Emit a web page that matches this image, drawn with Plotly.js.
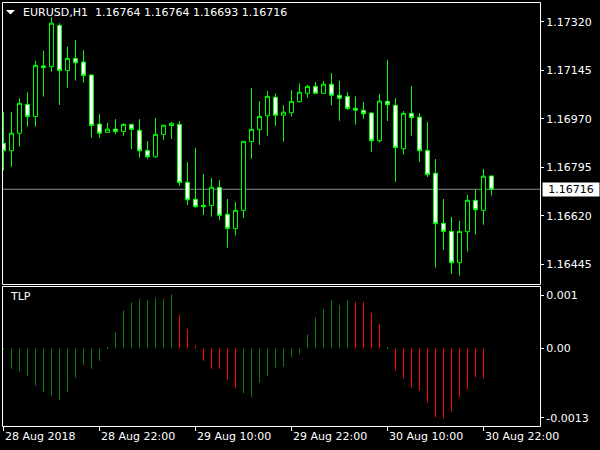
<!DOCTYPE html>
<html>
<head>
<meta charset="utf-8">
<script src="https://cdn.plot.ly/plotly-3.0.1.min.js"></script>
<style>html,body{margin:0;padding:0;background:#000;}#chart{width:600px;height:450px;}</style>
</head>
<body>
<div id="chart"></div>
<script>
var symbol = 'EURUSD,H1';
var indicatorName = 'TLP';

var times = [
 '2018-08-28 10:00','2018-08-28 11:00','2018-08-28 12:00','2018-08-28 13:00','2018-08-28 14:00','2018-08-28 15:00','2018-08-28 16:00',
 '2018-08-28 17:00','2018-08-28 18:00','2018-08-28 19:00','2018-08-28 20:00','2018-08-28 21:00','2018-08-28 22:00','2018-08-28 23:00',
 '2018-08-29 00:00','2018-08-29 01:00','2018-08-29 02:00','2018-08-29 03:00','2018-08-29 04:00','2018-08-29 05:00','2018-08-29 06:00',
 '2018-08-29 07:00','2018-08-29 08:00','2018-08-29 09:00','2018-08-29 10:00','2018-08-29 11:00','2018-08-29 12:00','2018-08-29 13:00',
 '2018-08-29 14:00','2018-08-29 15:00','2018-08-29 16:00','2018-08-29 17:00','2018-08-29 18:00','2018-08-29 19:00','2018-08-29 20:00',
 '2018-08-29 21:00','2018-08-29 22:00','2018-08-29 23:00',
 '2018-08-30 00:00','2018-08-30 01:00','2018-08-30 02:00','2018-08-30 03:00','2018-08-30 04:00','2018-08-30 05:00','2018-08-30 06:00',
 '2018-08-30 07:00','2018-08-30 08:00','2018-08-30 09:00','2018-08-30 10:00','2018-08-30 11:00','2018-08-30 12:00','2018-08-30 13:00',
 '2018-08-30 14:00','2018-08-30 15:00','2018-08-30 16:00','2018-08-30 17:00','2018-08-30 18:00','2018-08-30 19:00','2018-08-30 20:00',
 '2018-08-30 21:00','2018-08-30 22:00','2018-08-30 23:00'
];

var open = [1.16882,1.16855,1.16918,1.17022,1.16978,1.17161,1.17158,1.17307,1.17144,1.17188,1.17175,1.17128,1.16951,1.16921,
 1.16933,1.16924,1.16950,1.16929,1.16856,1.16833,1.16914,1.16946,1.16950,1.16741,1.16680,1.16658,1.16657,1.16723,
 1.16626,1.16574,1.16640,1.16888,1.16931,1.16981,1.17048,1.16983,1.16992,1.17032,
 1.17062,1.17087,1.17062,1.17095,1.17055,1.17051,1.17008,1.17001,1.16991,1.16891,1.17033,1.17019,1.16862,1.16990,
 1.16976,1.16856,1.16774,1.16593,1.16564,1.16451,1.16563,1.16676,1.16640,1.16764];
var high = [1.16995,1.16995,1.17044,1.17066,1.17179,1.17215,1.17336,1.17315,1.17230,1.17254,1.17218,1.17130,1.16988,1.16955,
 1.16969,1.16954,1.16952,1.16969,1.16890,1.16973,1.16948,1.16958,1.16962,1.16814,1.16865,1.16771,1.16757,1.16749,
 1.16681,1.16670,1.16890,1.17081,1.17034,1.17070,1.17062,1.17019,1.17074,1.17098,
 1.17092,1.17102,1.17107,1.17135,1.17107,1.17066,1.17051,1.17031,1.16994,1.17060,1.17182,1.17045,1.16998,1.17088,
 1.16991,1.16959,1.16825,1.16681,1.16616,1.16602,1.16695,1.16716,1.16789,1.16764];
var low = [1.16783,1.16797,1.16870,1.16942,1.16942,1.17050,1.17140,1.17020,1.17082,1.17108,1.17100,1.16902,1.16902,1.16920,
 1.16915,1.16909,1.16861,1.16830,1.16826,1.16830,1.16894,1.16897,1.16729,1.16660,1.16650,1.16623,1.16617,1.16605,
 1.16505,1.16549,1.16613,1.16826,1.16876,1.16909,1.16945,1.16888,1.16978,1.17028,
 1.17046,1.17061,1.17061,1.17019,1.16963,1.17002,1.16949,1.16970,1.16851,1.16884,1.16962,1.16743,1.16841,1.16909,
 1.16815,1.16760,1.16433,1.16497,1.16411,1.16404,1.16491,1.16552,1.16588,1.16693];
var close = [1.16855,1.16918,1.17026,1.16978,1.17163,1.17155,1.17315,1.17144,1.17188,1.17172,1.17126,1.16946,1.16918,1.16933,
 1.16924,1.16950,1.16932,1.16855,1.16833,1.16914,1.16947,1.16954,1.16740,1.16678,1.16653,1.16653,1.16723,1.16622,
 1.16575,1.16640,1.16889,1.16932,1.16979,1.17051,1.16983,1.16994,1.17033,1.17066,
 1.17087,1.17062,1.17095,1.17055,1.17044,1.17007,1.17001,1.16988,1.16891,1.17034,1.17021,1.16866,1.16990,1.16974,
 1.16855,1.16769,1.16592,1.16564,1.16451,1.16564,1.16676,1.16642,1.16763,1.16716];

// TLP histogram: rising buffer (green) and falling buffer (red)
var tlpUp = [-0.00002,-0.00038,-0.00043,-0.00052,-0.00070,-0.00082,-0.00090,-0.00097,-0.00082,-0.00055,-0.00031,-0.00038,-0.00023,0.00002,
 0.00031,0.00071,0.00086,0.00093,0.00091,0.00095,0.00093,0.00101,null,null,null,null,null,null,
 null,null,-0.00084,-0.00092,-0.00064,-0.00052,-0.00036,-0.00034,-0.00017,-0.00011,
 0.00026,0.00058,0.00074,0.00091,0.00082,0.00091,null,null,null,null,0.00001,null,null,null,
 null,null,null,null,null,null,null,null,null,null];
var tlpDown = [null,null,null,null,null,null,null,null,null,null,null,null,null,null,
 null,null,null,null,null,null,null,null,0.00063,0.00037,0.00006,-0.00023,-0.00038,-0.00038,
 -0.00059,-0.00075,null,null,null,null,null,null,null,null,
 null,null,null,null,null,null,0.00087,0.00087,0.00067,0.00046,null,-0.00041,-0.00056,-0.00073,
 -0.00079,-0.00101,-0.00129,-0.00131,-0.00118,-0.00092,-0.00077,-0.00054,-0.00056,null];

var priceTicks = [1.16445,1.16620,1.16795,1.16970,1.17145,1.17320];
var tlpTicks = [0.001,0,-0.0013];
var tlpTickText = ['0.001','0.00','-0.0013'];
var timeTicks = ['2018-08-28 10:00','2018-08-28 22:00','2018-08-29 10:00','2018-08-29 22:00','2018-08-30 10:00','2018-08-30 22:00'];
var timeTickText = ['28 Aug 2018','28 Aug 22:00','29 Aug 10:00','29 Aug 22:00','30 Aug 10:00','30 Aug 22:00'];

var last = times.length - 1;
var lastClose = close[last];
var FONT = 'DejaVu Sans, Verdana, sans-serif';
var NB = '\u00a0';

var traces = [
  {
    type: 'candlestick', x: times, open: open, high: high, low: low, close: close,
    xaxis: 'x', yaxis: 'y', whiskerwidth: 0,
    increasing: {line: {color: '#00ff00', width: 1}, fillcolor: '#000000'},
    decreasing: {line: {color: '#00ff00', width: 1}, fillcolor: '#ffffff'},
    hoverinfo: 'skip'
  },
  {type: 'bar', x: times, y: tlpUp, xaxis: 'x', yaxis: 'y2', width: 225000,
   marker: {color: '#008000', line: {width: 0}}, hoverinfo: 'skip'},
  {type: 'bar', x: times, y: tlpDown, xaxis: 'x', yaxis: 'y2', width: 225000,
   marker: {color: '#ff0000', line: {width: 0}}, hoverinfo: 'skip'}
];

var annotations = [
  {xref: 'paper', yref: 'paper', x: 0.0353, y: 0.9787, xanchor: 'left', yanchor: 'middle', showarrow: false,
   text: symbol + NB + NB + open[last].toFixed(5) + ' ' + high[last].toFixed(5) + ' ' + low[last].toFixed(5) + ' ' + close[last].toFixed(5),
   font: {family: FONT, size: 11, color: '#ffffff'}},
  {xref: 'paper', yref: 'paper', x: 0.0112, y: 0.305, xanchor: 'left', yanchor: 'middle', showarrow: false,
   text: indicatorName, font: {family: FONT, size: 11, color: '#ffffff'}},
  {xref: 'paper', yref: 'y', x: 1, y: lastClose, xanchor: 'left', yanchor: 'middle', xshift: 2, showarrow: false,
   text: lastClose.toFixed(5), bgcolor: '#ffffff', width: 54, height: 11, borderpad: 1, align: 'center',
   font: {family: FONT, size: 11, color: '#000000'}}
];
for (var i = 0; i < timeTicks.length; i++) {
  annotations.push({xref: 'x', yref: 'paper', x: timeTicks[i], y: -0.026, xanchor: 'left', yanchor: 'middle',
    xshift: -1, showarrow: false, text: timeTickText[i], font: {family: FONT, size: 11, color: '#ffffff'}});
}

var shapes = [
  {type: 'rect', xref: 'paper', yref: 'paper', x0: 0.00093, x1: 1.00093, y0: 0.33452, y1: 1.00118,
   line: {color: '#ffffff', width: 1}, fillcolor: 'rgba(0,0,0,0)', layer: 'above'},
  {type: 'rect', xref: 'paper', yref: 'paper', x0: 0.00093, x1: 1.00093, y0: -0.00118, y1: 0.32979,
   line: {color: '#ffffff', width: 1}, fillcolor: 'rgba(0,0,0,0)', layer: 'above'},
  {type: 'line', xref: 'paper', yref: 'y', x0: 0, x1: 1, y0: lastClose, y1: lastClose,
   line: {color: '#8c8c8c', width: 1}, layer: 'below'},
  {type: 'path', xref: 'paper', yref: 'paper', path: 'M0.00743,0.98345 L0.02416,0.98345 L0.0158,0.97281 Z',
   fillcolor: '#ffffff', line: {width: 0}, layer: 'above'}
];

var layout = {
  width: 600, height: 450,
  margin: {l: 2, r: 60, t: 3, b: 24, pad: 0},
  paper_bgcolor: '#000000', plot_bgcolor: '#000000',
  font: {family: FONT, size: 11, color: '#ffffff'},
  showlegend: false, hovermode: false,
  boxgap: 0.5, boxgroupgap: 0, barmode: 'overlay',
  xaxis: {
    type: 'date', anchor: 'y2', range: ['2018-08-28 09:48:45', '2018-08-31 05:03:45'],
    rangeslider: {visible: false}, showgrid: false, zeroline: false, showline: false,
    ticks: 'outside', ticklen: 4, tickcolor: '#ffffff', tickwidth: 1,
    tickmode: 'array', tickvals: timeTicks, showticklabels: false, fixedrange: true
  },
  yaxis: {
    domain: [0.3357, 1], anchor: 'x', side: 'right', range: [1.163743, 1.173878],
    showgrid: false, zeroline: false, showline: false,
    ticks: 'outside', ticklen: 3, tickcolor: '#ffffff', tickwidth: 1,
    tickmode: 'array', tickvals: priceTicks, tickformat: '.5f',
    tickfont: {family: FONT, size: 11, color: '#ffffff'}, fixedrange: true
  },
  yaxis2: {
    domain: [0, 0.33097], anchor: 'x', side: 'right', range: [-0.0014516, 0.0011706],
    showgrid: false, zeroline: false, showline: false,
    ticks: 'outside', ticklen: 3, tickcolor: '#ffffff', tickwidth: 1,
    tickmode: 'array', tickvals: tlpTicks, ticktext: tlpTickText,
    tickfont: {family: FONT, size: 11, color: '#ffffff'}, fixedrange: true
  },
  annotations: annotations,
  shapes: shapes
};

Plotly.newPlot('chart', traces, layout, {displayModeBar: false, responsive: false});
</script>
</body>
</html>
